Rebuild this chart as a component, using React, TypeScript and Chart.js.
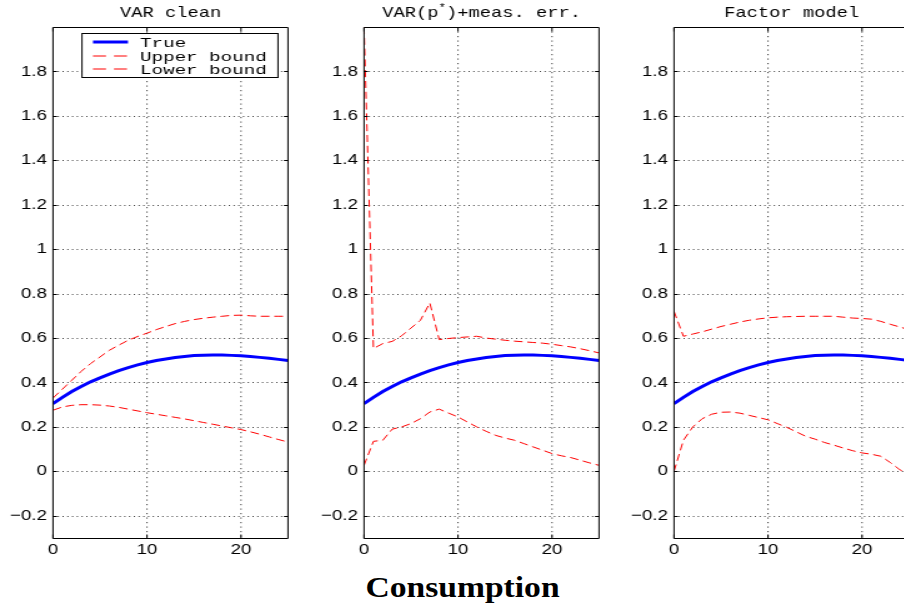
import React, { useEffect, useRef } from "react";
import { Chart, registerables } from "chart.js";

Chart.register(...registerables);

// Impulse-response horizons (quarters)
const horizons = [0, 1, 2, 3, 4, 5, 6, 7, 8, 9, 10, 11, 12, 13, 14, 15, 16, 17, 18, 19, 20, 21, 22, 23, 24, 25];

// True response of consumption (same in every panel)
const trueResponse = [0.305, 0.333, 0.359, 0.382, 0.403, 0.421, 0.438, 0.453, 0.467, 0.479, 0.49, 0.499, 0.506, 0.512, 0.517, 0.521, 0.523, 0.524, 0.524, 0.522, 0.52, 0.517, 0.513, 0.509, 0.504, 0.499];

// VAR clean bounds
const varCleanUpper = [0.33, 0.37, 0.41, 0.45, 0.485, 0.515, 0.545, 0.568, 0.59, 0.607, 0.622, 0.638, 0.652, 0.665, 0.675, 0.683, 0.689, 0.694, 0.698, 0.702, 0.703, 0.7, 0.698, 0.698, 0.698, 0.698];
const varCleanLower = [0.275, 0.29, 0.297, 0.3, 0.3, 0.298, 0.294, 0.288, 0.28, 0.272, 0.264, 0.257, 0.25, 0.243, 0.236, 0.228, 0.22, 0.212, 0.204, 0.196, 0.188, 0.178, 0.167, 0.155, 0.143, 0.132];

// VAR(p*) + measurement error bounds
const varMeasUpper = [2.0, 0.553, 0.575, 0.585, 0.61, 0.645, 0.68, 0.758, 0.593, 0.598, 0.602, 0.605, 0.608, 0.6, 0.595, 0.59, 0.586, 0.583, 0.58, 0.577, 0.572, 0.566, 0.56, 0.552, 0.543, 0.533];
const varMeasLower = [0.027, 0.135, 0.14, 0.19, 0.2, 0.215, 0.237, 0.267, 0.28, 0.262, 0.245, 0.222, 0.2, 0.18, 0.162, 0.15, 0.14, 0.125, 0.11, 0.095, 0.08, 0.07, 0.062, 0.05, 0.038, 0.027];

// Factor model bounds
const factorUpper = [0.72, 0.608, 0.618, 0.628, 0.64, 0.652, 0.662, 0.672, 0.68, 0.686, 0.691, 0.694, 0.696, 0.697, 0.698, 0.698, 0.698, 0.698, 0.694, 0.69, 0.688, 0.685, 0.675, 0.662, 0.65, 0.638];
const factorLower = [0.0, 0.14, 0.2, 0.237, 0.257, 0.266, 0.267, 0.262, 0.252, 0.242, 0.232, 0.215, 0.198, 0.178, 0.158, 0.145, 0.13, 0.118, 0.105, 0.093, 0.083, 0.077, 0.068, 0.04, 0.008, -0.015];

const panelTitles = ["VAR clean", "VAR(p^*)+meas. err.", "Factor model"];
const legendLabels = ["True", "Upper bound", "Lower bound"];
const figureLabel = "Consumption";

const xTicks = [0, 10, 20];
const yTicks = [-0.2, 0, 0.2, 0.4, 0.6, 0.8, 1, 1.2, 1.4, 1.6, 1.8];
const xRange = [0, 25];
const yRange = [-0.3, 2.0];

// The figure is drawn on canvases stretched horizontally by this factor
const SX = 1.25;
const CANVAS_W = 300;
const CANVAS_H = 565;
const PANEL_STEP = 310.5;
const AXIS_LEFT = 53;
const PLOT_TOP = 27;
const PLOT_BOTTOM = 538;
const PLOT_W = 235;

const hx = (v: number) => v / SX;

const gridPlugin = {
  id: "dottedGrid",
  beforeDatasetsDraw(chart: any) {
    const { ctx, chartArea: a, scales } = chart;
    ctx.save();
    ctx.strokeStyle = "#444";
    ctx.lineWidth = 1;
    ctx.setLineDash([1, 2.8]);
    ctx.beginPath();
    yTicks.forEach((v) => {
      const y = Math.round(scales.y.getPixelForValue(v)) + 0.5;
      ctx.moveTo(a.left, y);
      ctx.lineTo(a.right, y);
    });
    ctx.stroke();
    ctx.setLineDash([1.2, 3.3]);
    ctx.beginPath();
    xTicks.forEach((v) => {
      const x = scales.x.getPixelForValue(v);
      if (x <= a.left + 1) return;
      ctx.moveTo(x, a.top);
      ctx.lineTo(x, a.bottom);
    });
    ctx.stroke();
    ctx.restore();
  },
};

const framePlugin = {
  id: "boxFrame",
  afterDatasetsDraw(chart: any) {
    const { ctx, chartArea: a, scales } = chart;
    const top = Math.round(a.top) + 0.5;
    const bottom = Math.round(a.bottom) + 0.5;
    ctx.save();
    ctx.strokeStyle = "#000";
    ctx.lineWidth = 1;
    ctx.setLineDash([]);
    ctx.beginPath();
    ctx.rect(a.left, top, a.right - a.left, bottom - top);
    const tl = hx(4);
    yTicks.forEach((v) => {
      const y = Math.round(scales.y.getPixelForValue(v)) + 0.5;
      ctx.moveTo(a.left, y);
      ctx.lineTo(a.left + tl, y);
      ctx.moveTo(a.right, y);
      ctx.lineTo(a.right - tl, y);
    });
    xTicks.forEach((v) => {
      const x = scales.x.getPixelForValue(v);
      ctx.moveTo(x, bottom);
      ctx.lineTo(x, bottom - 4);
      ctx.moveTo(x, top);
      ctx.lineTo(x, top + 4);
    });
    ctx.stroke();
    ctx.restore();
  },
};

function makeTitlePlugin(title: string) {
  return {
    id: "panelTitle",
    afterDraw(chart: any) {
      const { ctx, chartArea: a } = chart;
      const parts = title.split("^");
      const segs: { text: string; sup: boolean }[] = [];
      parts.forEach((p, i) => {
        if (i === 0) segs.push({ text: p, sup: false });
        else {
          segs.push({ text: p.slice(0, 1), sup: true });
          segs.push({ text: p.slice(1), sup: false });
        }
      });
      const mainFont = '15px "Liberation Mono"';
      const supFont = '10px "Liberation Mono"';
      ctx.save();
      ctx.fillStyle = "#000";
      ctx.textBaseline = "alphabetic";
      ctx.textAlign = "left";
      let total = 0;
      segs.forEach((s) => {
        ctx.font = s.sup ? supFont : mainFont;
        total += ctx.measureText(s.text).width;
      });
      let x = (a.left + a.right) / 2 - total / 2;
      segs.forEach((s) => {
        ctx.font = s.sup ? supFont : mainFont;
        ctx.fillText(s.text, x, s.sup ? 10.5 : 17);
        x += ctx.measureText(s.text).width;
      });
      ctx.restore();
    },
  };
}

const legendPlugin = {
  id: "boxLegend",
  afterDraw(chart: any) {
    const { ctx } = chart;
    const x0 = hx(82);
    const x1 = hx(278);
    const y0 = 33.5;
    const y1 = 77.5;
    ctx.save();
    ctx.fillStyle = "#fff";
    ctx.fillRect(x0, y0, x1 - x0, y1 - y0);
    ctx.strokeStyle = "#000";
    ctx.lineWidth = 1;
    ctx.setLineDash([]);
    ctx.strokeRect(x0, y0, x1 - x0, y1 - y0);
    chart.data.datasets.forEach((ds: any, i: number) => {
      const rowY = Math.round(42 + 13.5 * i);
      ctx.beginPath();
      ctx.strokeStyle = ds.borderColor;
      ctx.lineWidth = ds.borderWidth;
      ctx.setLineDash(ds.borderDash && ds.borderDash.length ? [hx(13), hx(8)] : []);
      ctx.moveTo(hx(93), rowY);
      ctx.lineTo(hx(128), rowY);
      ctx.stroke();
      ctx.setLineDash([]);
      ctx.fillStyle = "#000";
      ctx.font = '12px "Liberation Mono"';
      ctx.textBaseline = "alphabetic";
      ctx.textAlign = "left";
      ctx.save();
      ctx.translate(hx(140), rowY + 4.8);
      ctx.scale(1.28, 1);
      ctx.fillText(ds.label, 0, 0);
      ctx.restore();
    });
    ctx.restore();
  },
};

const formatY = (v: number) => {
  const n = Math.round(v * 10) / 10;
  return n < 0 ? "\u2212" + Math.abs(n) : String(n);
};

function Panel({ index, title, upper, lower, showLegend }: { index: number; title: string; upper: number[]; lower: number[]; showLegend: boolean }) {
  const ref = useRef<HTMLCanvasElement>(null);
  useEffect(() => {
    const canvas = ref.current;
    if (!canvas) return;
    const pts = (vals: number[]) => vals.map((y, i) => ({ x: horizons[i], y }));
    const tickFont = { family: '"Liberation Sans", Arial, sans-serif', size: 15 };
    const plugins: any[] = [gridPlugin, framePlugin, makeTitlePlugin(title)];
    if (showLegend) plugins.push(legendPlugin);
    const dash = [7, 3.8];
    const chart = new Chart(canvas, {
      type: "line",
      data: {
        datasets: [
          { label: legendLabels[0], data: pts(trueResponse), borderColor: "#0000ff", borderWidth: 3, pointRadius: 0, tension: 0, fill: false },
          { label: legendLabels[1], data: pts(upper), borderColor: "#ff0000", borderWidth: 1, borderDash: dash, pointRadius: 0, tension: 0, fill: false },
          { label: legendLabels[2], data: pts(lower), borderColor: "#ff0000", borderWidth: 1, borderDash: dash, pointRadius: 0, tension: 0, fill: false },
        ],
      },
      options: {
        responsive: false,
        maintainAspectRatio: false,
        animation: false,
        devicePixelRatio: 1,
        events: [],
        layout: { padding: { left: 0, right: hx(CANVAS_W - AXIS_LEFT - PLOT_W), top: PLOT_TOP, bottom: 0 } },
        plugins: { legend: { display: false }, tooltip: { enabled: false }, title: { display: false } },
        scales: {
          x: {
            type: "linear",
            min: xRange[0],
            max: xRange[1],
            grid: { display: false, drawTicks: false, tickLength: 0 },
            border: { display: false },
            ticks: { font: tickFont, color: "#000", padding: 3, maxRotation: 0, callback: (v: any) => String(v) },
            afterBuildTicks: (s: any) => {
              s.ticks = xTicks.map((v) => ({ value: v }));
            },
            afterFit: (s: any) => {
              s.height = CANVAS_H - PLOT_BOTTOM;
            },
          },
          y: {
            type: "linear",
            min: yRange[0],
            max: yRange[1],
            grid: { display: false, drawTicks: false, tickLength: 0 },
            border: { display: false },
            ticks: { font: tickFont, color: "#000", padding: hx(6), callback: (v: any) => formatY(Number(v)) },
            afterBuildTicks: (s: any) => {
              s.ticks = yTicks.map((v) => ({ value: v }));
            },
            afterFit: (s: any) => {
              s.width = hx(AXIS_LEFT);
            },
          },
        },
      },
      plugins,
    } as any);
    return () => chart.destroy();
  }, [title, upper, lower, showLegend]);

  return (
    <canvas
      ref={ref}
      width={CANVAS_W / SX}
      height={CANVAS_H}
      style={{ position: "absolute", left: PANEL_STEP * index, top: 0, width: CANVAS_W, height: CANVAS_H }}
    />
  );
}

export default function App() {
  const bounds = [
    [varCleanUpper, varCleanLower],
    [varMeasUpper, varMeasLower],
    [factorUpper, factorLower],
  ];
  return (
    <div style={{ position: "fixed", left: 0, top: 0, width: 904, height: 608, overflow: "hidden", background: "#fff" }}>
      {panelTitles.map((t, i) => (
        <Panel key={i} index={i} title={t} upper={bounds[i][0]} lower={bounds[i][1]} showLegend={i === 0} />
      ))}
      <div
        style={{
          position: "absolute",
          left: 0,
          top: 572,
          width: 925,
          textAlign: "center",
          fontFamily: '"Liberation Serif", serif',
          fontWeight: "bold",
          fontSize: 30,
          lineHeight: "30px",
          transform: "scaleX(1.12)",
          transformOrigin: "center",
          color: "#000",
        }}
      >
        {figureLabel}
      </div>
    </div>
  );
}
